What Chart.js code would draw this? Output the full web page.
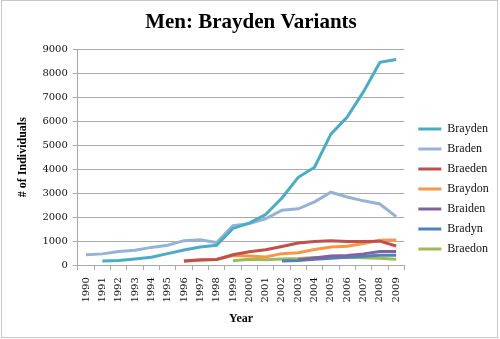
<!DOCTYPE html>
<html>
<head>
<meta charset="utf-8">
<script src="https://cdn.jsdelivr.net/npm/chart.js@4.4.1/dist/chart.umd.min.js"></script>
<style>
  html, body { margin: 0; padding: 0; background: #fff; }
  #wrap { position: relative; width: 500px; height: 339px; }
</style>
</head>
<body>
<div id="wrap"><canvas id="namesCanvas" width="500" height="339"></canvas></div>
<script>
const years = ["1990", "1991", "1992", "1993", "1994", "1995", "1996", "1997", "1998", "1999",
               "2000", "2001", "2002", "2003", "2004", "2005", "2006", "2007", "2008", "2009"];

const brayden = [null, 170, 190, 260, 330, 480, 630, 760, 830, 1530, 1750, 2110, 2800, 3660, 4080, 5460, 6170, 7230, 8450, 8570];
const braden  = [430, 470, 570, 620, 740, 830, 1020, 1060, 940, 1650, 1730, 1930, 2290, 2350, 2640, 3040, 2840, 2680, 2550, 2020];
const braeden = [null, null, null, null, null, null, 170, 230, 240, 430, 560, 640, 780, 920, 990, 1020, 990, 990, 1000, 800];
const braydon = [null, null, null, null, null, null, 160, 200, 240, 400, 380, 340, 480, 520, 650, 760, 790, 900, 1040, 1050];
const braiden = [null, null, null, null, null, null, null, null, null, null, null, null, null, 230, 300, 380, 400, 470, 570, 570];
const bradyn  = [null, null, null, null, null, null, null, null, null, null, null, null, 170, 190, 250, 290, 330, 370, 410, 410];
const braedon = [null, null, null, null, null, null, null, null, null, 180, 250, 220, 260, 280, 320, 330, 320, 310, 290, 250];

const countTicks = [0, 1000, 2000, 3000, 4000, 5000, 6000, 7000, 8000, 9000];

const gridGray = "#a9a9a9";
const textColor = "#111";

function series(label, data, color) {
    return {
        label: label,
        data: data,
        borderColor: color,
        backgroundColor: color,
        borderWidth: 3,
        pointRadius: 0,
        pointHoverRadius: 0,
        tension: 0,
        fill: false
    };
}

// white page and thin grey frame around the whole chart
const framePlugin = {
    id: "frame",
    beforeDraw(chart) {
        const ctx = chart.ctx;
        ctx.save();
        ctx.fillStyle = "#fff";
        ctx.fillRect(0, 0, chart.width, chart.height);
        ctx.restore();
    },
    afterDraw(chart) {
        const ctx = chart.ctx;
        ctx.save();
        ctx.strokeStyle = "#c8c8c8";
        ctx.lineWidth = 1;
        ctx.strokeRect(1.5, 0.5, 496, 337);
        ctx.restore();
    }
};

const namesChart = new Chart(document.getElementById("namesCanvas"), {
    type: "line",
    data: {
        labels: years,
        datasets: [
            series("Brayden", brayden, "#4bacc6"),
            series("Braden", braden, "#95b3d7"),
            series("Braeden", braeden, "#c0504d"),
            series("Braydon", braydon, "#f79646"),
            series("Braiden", braiden, "#8064a2"),
            series("Bradyn", bradyn, "#4f81bd"),
            series("Braedon", braedon, "#9bbb59")
        ]
    },
    options: {
        responsive: false,
        animation: false,
        spanGaps: false,
        layout: {
            padding: { left: 12, right: 10, top: 0, bottom: 9 }
        },
        plugins: {
            title: {
                display: true,
                text: "Men: Brayden Variants",
                color: "#000",
                font: { family: "Liberation Serif", size: 21, weight: "bold" },
                padding: { top: 10, bottom: 14 }
            },
            legend: {
                position: "right",
                align: "start",
                title: {
                    display: true,
                    text: "",
                    font: { size: 10 },
                    padding: { top: 103, bottom: 0 }
                },
                labels: {
                    usePointStyle: true,
                    pointStyle: "line",
                    pointStyleWidth: 23,
                    boxHeight: 12,
                    padding: 8,
                    color: textColor,
                    font: { family: "Liberation Serif", size: 12 }
                }
            },
            tooltip: { enabled: false }
        },
        scales: {
            x: {
                offset: true,
                grid: {
                    offset: true,
                    drawOnChartArea: false,
                    drawTicks: true,
                    tickLength: 5,
                    color: gridGray
                },
                border: { display: true, color: gridGray, width: 1 },
                ticks: {
                    autoSkip: false,
                    maxRotation: 90,
                    minRotation: 90,
                    padding: 7,
                    color: textColor,
                    font: { family: "DejaVu Serif", size: 10 }
                },
                title: {
                    display: true,
                    text: "Year",
                    color: "#000",
                    font: { family: "Liberation Serif", size: 12, weight: "bold" },
                    padding: { top: 2, bottom: 4 }
                }
            },
            y: {
                min: 0,
                max: 9000,
                afterBuildTicks(scale) {
                    scale.ticks = countTicks.map(v => ({ value: v }));
                },
                grid: {
                    color: gridGray,
                    drawTicks: true,
                    tickLength: 5
                },
                border: { display: true, color: gridGray, width: 1 },
                ticks: {
                    padding: 5,
                    color: textColor,
                    font: { family: "DejaVu Serif", size: 10 },
                    callback: v => String(v)
                },
                title: {
                    display: true,
                    text: "# of Individuals",
                    color: "#000",
                    font: { family: "Liberation Serif", size: 12, weight: "bold" },
                    padding: { top: 4, bottom: 7 }
                }
            },
            gap: {
                type: "linear",
                position: "right",
                display: true,
                grid: { display: false },
                border: { display: false },
                ticks: { display: false },
                afterFit(scale) {
                    scale.width = 6;
                }
            }
        }
    },
    plugins: [framePlugin]
});
</script>
</body>
</html>
